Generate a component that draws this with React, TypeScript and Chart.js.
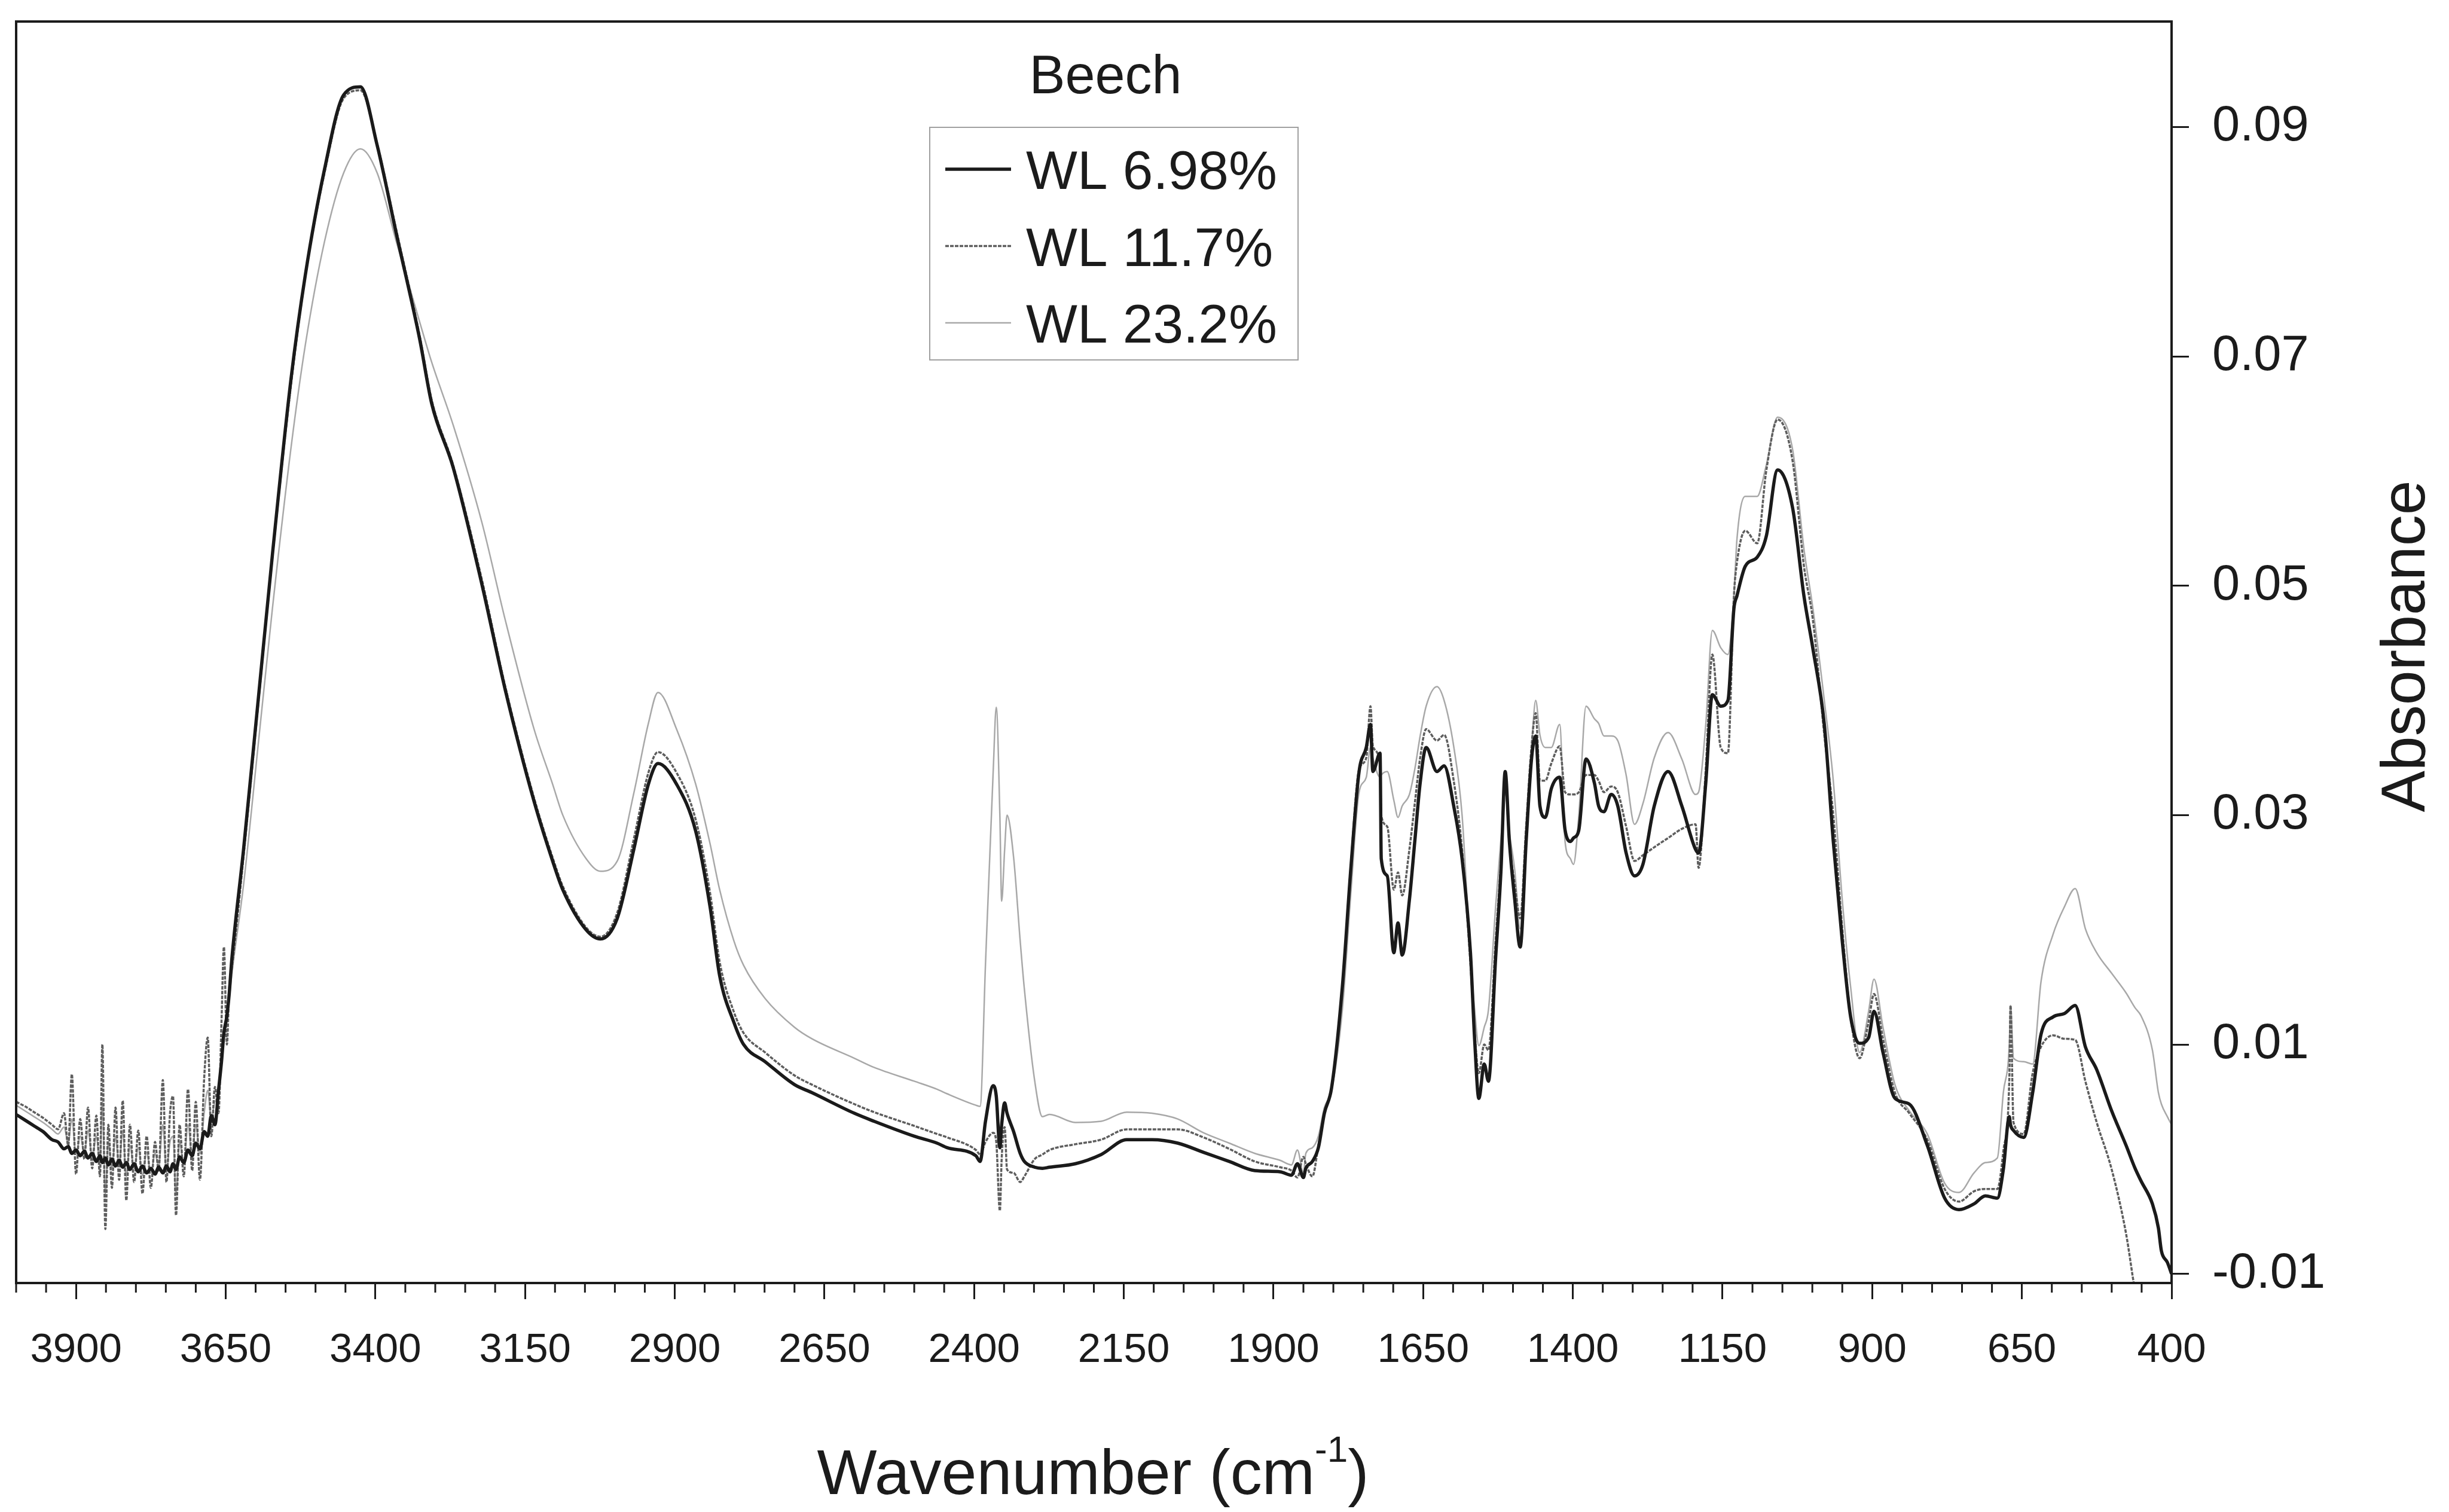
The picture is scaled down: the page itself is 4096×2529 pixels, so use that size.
import React, { useEffect, useRef } from 'react';
import { Chart, registerables } from 'chart.js';

Chart.register(...registerables);

const W = 4096;
const H = 2529;
const FONT = '"Liberation Sans", Arial, Helvetica, sans-serif';
const INK = '#1b1b1b';

// Wavenumber (cm-1), descending
const WAVENUMBERS = [
  4000, 3985, 3970, 3955, 3940, 3930, 3920, 3913, 3907, 3900,
  3893, 3886, 3880, 3873, 3866, 3860, 3856, 3851, 3846, 3840,
  3834, 3828, 3822, 3816, 3810, 3803, 3796, 3789, 3782, 3775,
  3768, 3762, 3755, 3749, 3743, 3738, 3733, 3727, 3720, 3713,
  3706, 3700, 3693, 3686, 3680, 3674, 3668, 3662, 3657, 3653,
  3648, 3644, 3640, 3620, 3596, 3572, 3541,
  3517, 3485, 3453, 3425, 3397, 3365, 3326, 3306, 3270, 3222,
  3183, 3135, 3104, 3087, 3048, 3024, 2996, 2968, 2944, 2928,
  2897, 2865, 2841, 2825, 2801, 2785, 2749, 2700, 2671, 2600,
  2567, 2500, 2462, 2445, 2397, 2390, 2381, 2368, 2363, 2357,
  2354, 2349, 2345, 2334, 2323, 2316, 2299, 2286, 2274, 2231,
  2188, 2145, 2103, 2060, 2017, 1974, 1931, 1889, 1870, 1860,
  1850, 1846, 1835, 1825, 1815, 1803, 1785, 1771, 1757, 1745,
  1738, 1734, 1722, 1720, 1710, 1699, 1692, 1685, 1673, 1664,
  1655, 1645, 1627, 1615, 1599, 1585, 1571, 1564, 1557, 1548,
  1541, 1529, 1520, 1513, 1506, 1497, 1488, 1478, 1469, 1462,
  1455, 1446, 1436, 1422, 1413, 1404, 1399, 1390, 1378, 1364,
  1357, 1348, 1336, 1325, 1311, 1297, 1283, 1264, 1241, 1218,
  1195, 1190, 1178, 1167, 1153, 1141, 1131, 1126, 1112, 1092,
  1077, 1058, 1033, 1014, 999, 980, 965, 950, 936, 921,
  906, 897, 882, 862, 838, 808, 779, 755, 730, 711,
  691, 681, 671, 669, 664, 647, 632, 618, 598, 579,
  561, 544, 525, 500, 476, 461, 451, 432, 422, 417,
  407, 400,
];

// Absorbance, WL 6.98%
const WL_698 = [
  0.0039, 0.0034, 0.0029, 0.0024, 0.0017, 0.0015, 0.0009, 0.0011, 0.0005, 0.0008,
  0.0003, 0.0007, 0.0001, 0.0005, -0.0002, 0.0003, -0.0003, 0.0001, -0.0005, 0.0000,
  -0.0006, -0.0001, -0.0007, -0.0003, -0.0009, -0.0004, -0.0011, -0.0006, -0.0012, -0.0008,
  -0.0013, -0.0007, -0.0012, -0.0006, -0.0011, -0.0004, -0.0009, 0.0002, -0.0003, 0.0008,
  0.0003, 0.0014, 0.0009, 0.0024, 0.0020, 0.0038, 0.0030, 0.0060, 0.0085, 0.0110,
  0.0125, 0.0145, 0.0173, 0.0271, 0.0399, 0.0527, 0.0680,
  0.0771, 0.0863, 0.0928, 0.0935, 0.0884, 0.0807, 0.0715, 0.0659, 0.0603, 0.0501,
  0.0409, 0.0312, 0.0260, 0.0235, 0.0200, 0.0192, 0.0210, 0.0271, 0.0327, 0.0345,
  0.0327, 0.0286, 0.0220, 0.0160, 0.0119, 0.0100, 0.0085, 0.0065, 0.0058, 0.0040,
  0.0033, 0.0020, 0.0014, 0.0010, 0.0003, -0.0002, 0.0033, 0.0064, 0.0055, 0.0010,
  0.0030, 0.0049, 0.0040, 0.0024, 0.0005, -0.0002, -0.0007, -0.0008, -0.0007, -0.0004,
  0.0004, 0.0017, 0.0017, 0.0014, 0.0006, -0.0002, -0.0010, -0.0011, -0.0014, -0.0004,
  -0.0016, -0.0008, -0.0002, 0.0010, 0.0040, 0.0062, 0.0150, 0.0252, 0.0338, 0.0359,
  0.0379, 0.0338, 0.0354, 0.0262, 0.0247, 0.0180, 0.0206, 0.0178, 0.0226, 0.0277,
  0.0328, 0.0359, 0.0338, 0.0343, 0.0308, 0.0262, 0.0180, 0.0104, 0.0053, 0.0083,
  0.0068, 0.0175, 0.0252, 0.0338, 0.0277, 0.0226, 0.0185, 0.0277, 0.0349, 0.0369,
  0.0308, 0.0298, 0.0323, 0.0333, 0.0287, 0.0277, 0.0280, 0.0287, 0.0349, 0.0328,
  0.0308, 0.0303, 0.0318, 0.0308, 0.0267, 0.0247, 0.0257, 0.0308, 0.0338, 0.0308,
  0.0270, 0.0267, 0.0328, 0.0405, 0.0395, 0.0400, 0.0480, 0.0491, 0.0517, 0.0525,
  0.0543, 0.0601, 0.0568, 0.0491, 0.0445, 0.0379, 0.0277, 0.0190, 0.0124, 0.0101,
  0.0106, 0.0129, 0.0093, 0.0053, 0.0048, 0.0012, -0.0034, -0.0044, -0.0039, -0.0032,
  -0.0034, -0.0009, 0.0037, 0.0030, 0.0025, 0.0019, 0.0058, 0.0109, 0.0124, 0.0127,
  0.0134, 0.0098, 0.0078, 0.0042, 0.0012, -0.0008, -0.0019, -0.0039, -0.0060, -0.0080,
  -0.0090, -0.0100,
];

// Absorbance, WL 11.7%
const WL_117 = [
  0.0050, 0.0046, 0.0041, 0.0036, 0.0030, 0.0026, 0.0040, 0.0012, 0.0074, -0.0013,
  0.0035, 0.0000, 0.0045, -0.0008, 0.0038, -0.0015, 0.0100, -0.0061, 0.0030, -0.0025,
  0.0045, -0.0018, 0.0051, -0.0036, 0.0030, -0.0020, 0.0025, -0.0030, 0.0020, -0.0025,
  0.0015, -0.0010, 0.0069, -0.0020, 0.0040, 0.0055, -0.0049, 0.0030, -0.0015, 0.0061,
  -0.0010, 0.0050, -0.0018, 0.0070, 0.0106, 0.0020, 0.0063, 0.0040, 0.0120, 0.0185,
  0.0100, 0.0150, 0.0165, 0.0265, 0.0395, 0.0525, 0.0675,
  0.0770, 0.0860, 0.0925, 0.0932, 0.0885, 0.0810, 0.0718, 0.0662, 0.0605, 0.0505,
  0.0412, 0.0315, 0.0263, 0.0238, 0.0202, 0.0194, 0.0215, 0.0280, 0.0337, 0.0355,
  0.0337, 0.0296, 0.0232, 0.0172, 0.0128, 0.0110, 0.0093, 0.0073, 0.0065, 0.0048,
  0.0041, 0.0029, 0.0022, 0.0019, 0.0008, 0.0004, 0.0015, 0.0023, 0.0015, -0.0045,
  0.0000, 0.0028, -0.0009, -0.0012, -0.0020, -0.0015, 0.0000, 0.0004, 0.0008, 0.0013,
  0.0017, 0.0026, 0.0026, 0.0026, 0.0019, 0.0009, -0.0002, -0.0007, -0.0010, -0.0016,
  0.0002, -0.0004, -0.0015, 0.0012, 0.0040, 0.0062, 0.0150, 0.0255, 0.0340, 0.0350,
  0.0395, 0.0360, 0.0345, 0.0300, 0.0290, 0.0235, 0.0250, 0.0230, 0.0270, 0.0310,
  0.0350, 0.0375, 0.0365, 0.0370, 0.0330, 0.0270, 0.0170, 0.0110, 0.0075, 0.0100,
  0.0095, 0.0190, 0.0260, 0.0330, 0.0275, 0.0240, 0.0210, 0.0290, 0.0360, 0.0389,
  0.0330, 0.0330, 0.0345, 0.0360, 0.0320, 0.0318, 0.0318, 0.0320, 0.0335, 0.0335,
  0.0330, 0.0320, 0.0325, 0.0320, 0.0290, 0.0260, 0.0265, 0.0272, 0.0280, 0.0288,
  0.0292, 0.0254, 0.0340, 0.0440, 0.0359, 0.0354, 0.0491, 0.0520, 0.0548, 0.0537,
  0.0600, 0.0645, 0.0609, 0.0517, 0.0470, 0.0370, 0.0300, 0.0201, 0.0124, 0.0088,
  0.0120, 0.0144, 0.0105, 0.0058, 0.0040, 0.0017, -0.0026, -0.0037, -0.0028, -0.0026,
  -0.0026, 0.0007, 0.0070, 0.0134, 0.0032, 0.0022, 0.0075, 0.0098, 0.0108, 0.0105,
  0.0104, 0.0068, 0.0032, -0.0009, -0.0065, -0.0115, -0.0140, null, null, null,
  null, null,
];

// Absorbance, WL 23.2%
const WL_232 = [
  0.0047, 0.0042, 0.0037, 0.0032, 0.0026, 0.0022, 0.0028, 0.0014, 0.0035, 0.0004,
  0.0020, 0.0006, 0.0025, 0.0002, 0.0020, -0.0004, 0.0050, -0.0030, 0.0015, -0.0008,
  0.0020, -0.0006, 0.0025, -0.0015, 0.0012, -0.0008, 0.0010, -0.0014, 0.0006, -0.0012,
  0.0005, -0.0006, 0.0030, -0.0010, 0.0015, 0.0020, -0.0030, 0.0015, -0.0005, 0.0030,
  0.0002, 0.0030, 0.0005, 0.0040, 0.0060, 0.0035, 0.0050, 0.0055, 0.0090, 0.0110,
  0.0120, 0.0140, 0.0160, 0.0240, 0.0360, 0.0480, 0.0620,
  0.0710, 0.0800, 0.0860, 0.0881, 0.0860, 0.0800, 0.0730, 0.0695, 0.0640, 0.0555,
  0.0470, 0.0375, 0.0327, 0.0300, 0.0262, 0.0251, 0.0260, 0.0320, 0.0380, 0.0407,
  0.0375, 0.0327, 0.0275, 0.0235, 0.0190, 0.0169, 0.0140, 0.0115, 0.0105, 0.0088,
  0.0080, 0.0068, 0.0061, 0.0057, 0.0047, 0.0046, 0.0170, 0.0340, 0.0394, 0.0300,
  0.0225, 0.0270, 0.0300, 0.0263, 0.0190, 0.0148, 0.0069, 0.0037, 0.0039, 0.0032,
  0.0033, 0.0041, 0.0040, 0.0035, 0.0023, 0.0014, 0.0005, -0.0001, -0.0005, 0.0008,
  -0.0012, 0.0005, 0.0010, 0.0020, 0.0045, 0.0060, 0.0130, 0.0230, 0.0320, 0.0333,
  0.0359, 0.0350, 0.0333, 0.0335, 0.0338, 0.0313, 0.0298, 0.0308, 0.0318, 0.0340,
  0.0369, 0.0395, 0.0412, 0.0400, 0.0360, 0.0300, 0.0175, 0.0130, 0.0099, 0.0115,
  0.0130, 0.0220, 0.0280, 0.0318, 0.0285, 0.0252, 0.0201, 0.0290, 0.0359, 0.0400,
  0.0370, 0.0359, 0.0359, 0.0379, 0.0277, 0.0262, 0.0257, 0.0300, 0.0395, 0.0384,
  0.0380, 0.0369, 0.0369, 0.0365, 0.0335, 0.0292, 0.0310, 0.0350, 0.0372, 0.0349,
  0.0318, 0.0320, 0.0379, 0.0461, 0.0446, 0.0440, 0.0491, 0.0540, 0.0578, 0.0578,
  0.0605, 0.0647, 0.0619, 0.0532, 0.0480, 0.0400, 0.0330, 0.0226, 0.0150, 0.0093,
  0.0129, 0.0157, 0.0115, 0.0065, 0.0042, 0.0022, -0.0021, -0.0029, -0.0012, -0.0003,
  0.0001, 0.0058, 0.0100, 0.0134, 0.0088, 0.0085, 0.0083, 0.0155, 0.0196, 0.0220,
  0.0236, 0.0201, 0.0180, 0.0162, 0.0145, 0.0132, 0.0125, 0.0095, 0.0058, 0.0048,
  0.0037, 0.0030,
];

const SERIES_LABELS = ['WL 6.98%', 'WL 11.7%', 'WL 23.2%'];
const LEGEND_TITLE = 'Beech';
const X_TICKS = [3900, 3650, 3400, 3150, 2900, 2650, 2400, 2150, 1900, 1650, 1400, 1150, 900, 650, 400];
const X_MINOR_STEP = 50;
const Y_TICKS = [-0.01, 0.01, 0.03, 0.05, 0.07, 0.09];
const X_TITLE = 'Wavenumber (cm';
const X_TITLE_SUP = '-1';
const X_TITLE_END = ')';
const Y_TITLE = 'Absorbance';

const toPoints = (vals: (number | null)[]) => WAVENUMBERS.map((w, i) => ({ x: w, y: vals[i] }));

export default function App() {
  const ref = useRef<HTMLCanvasElement>(null);

  useEffect(() => {
    const canvas = ref.current;
    if (!canvas) return;

    const decor = {
      id: 'decor',
      afterDraw(chart: any) {
        const { ctx, chartArea: ca } = chart;
        const xs = chart.scales.x;
        ctx.save();
        // frame
        ctx.strokeStyle = INK;
        ctx.lineWidth = 4;
        ctx.strokeRect(ca.left, ca.top, ca.right - ca.left, ca.bottom - ca.top);
        // minor x ticks
        ctx.lineWidth = 3;
        for (let w = xs.max; w >= xs.min; w -= X_MINOR_STEP) {
          if (X_TICKS.includes(w)) continue;
          const px = xs.getPixelForValue(w);
          ctx.beginPath();
          ctx.moveTo(px, ca.bottom);
          ctx.lineTo(px, ca.bottom + 16);
          ctx.stroke();
        }
        // legend
        ctx.fillStyle = INK;
        ctx.font = `90px ${FONT}`;
        ctx.textAlign = 'center';
        ctx.textBaseline = 'alphabetic';
        ctx.fillText(LEGEND_TITLE, 1849, 156);
        ctx.strokeStyle = '#a0a0a0';
        ctx.lineWidth = 2;
        ctx.strokeRect(1555, 213, 616, 389);
        chart.data.datasets.forEach((ds: any, i: number) => {
          const cy = 283 + i * 128.5;
          ctx.save();
          ctx.strokeStyle = ds.borderColor;
          ctx.lineWidth = ds.borderWidth;
          ctx.setLineDash(ds.borderDash || []);
          ctx.beginPath();
          ctx.moveTo(1581, cy);
          ctx.lineTo(1691, cy);
          ctx.stroke();
          ctx.restore();
          ctx.fillStyle = INK;
          ctx.textAlign = 'left';
          ctx.font = `91px ${FONT}`;
          ctx.fillText(ds.label, 1716, cy + 33);
        });
        // x title with superscript
        const mainFont = `106px ${FONT}`;
        const supFont = `62px ${FONT}`;
        ctx.font = mainFont;
        const wMain = ctx.measureText(X_TITLE).width;
        const wEnd = ctx.measureText(X_TITLE_END).width;
        ctx.font = supFont;
        const wSup = ctx.measureText(X_TITLE_SUP).width;
        const total = wMain + wSup + wEnd;
        const x0 = 1828 - total / 2;
        ctx.textAlign = 'left';
        ctx.font = mainFont;
        ctx.fillText(X_TITLE, x0, 2499);
        ctx.font = supFont;
        ctx.fillText(X_TITLE_SUP, x0 + wMain, 2445);
        ctx.font = mainFont;
        ctx.fillText(X_TITLE_END, x0 + wMain + wSup, 2499);
        // y title
        ctx.save();
        ctx.translate(4055, 1081);
        ctx.rotate(-Math.PI / 2);
        ctx.textAlign = 'center';
        ctx.font = `104px ${FONT}`;
        ctx.fillText(Y_TITLE, 0, 0);
        ctx.restore();
        ctx.restore();
      },
    };

    const chart = new Chart(canvas, {
      type: 'line',
      data: {
        datasets: [
          {
            label: SERIES_LABELS[0],
            data: toPoints(WL_698),
            borderColor: '#1a1a1a',
            borderWidth: 5.5,
            pointRadius: 0,
            cubicInterpolationMode: 'monotone',
            spanGaps: false,
          },
          {
            label: SERIES_LABELS[1],
            data: toPoints(WL_117),
            borderColor: '#5e5e5e',
            borderWidth: 3.5,
            borderDash: [6, 2],
            pointRadius: 0,
            cubicInterpolationMode: 'monotone',
            spanGaps: false,
          },
          {
            label: SERIES_LABELS[2],
            data: toPoints(WL_232),
            borderColor: '#a8a8a8',
            borderWidth: 2.5,
            pointRadius: 0,
            cubicInterpolationMode: 'monotone',
            spanGaps: false,
          },
        ],
      },
      options: {
        animation: false,
        responsive: false,
        devicePixelRatio: 1,
        layout: { padding: { left: 27, top: 36, right: 0, bottom: 0 } },
        plugins: { legend: { display: false }, tooltip: { enabled: false } },
        scales: {
          x: {
            type: 'linear',
            position: 'bottom',
            reverse: true,
            min: 400,
            max: 4000,
            afterBuildTicks: (s: any) => {
              s.ticks = X_TICKS.map((v) => ({ value: v }));
            },
            afterFit: (s: any) => {
              s.height = H - 2146;
              s.paddingLeft = 0;
              s.paddingRight = 0;
            },
            ticks: {
              autoSkip: false,
              maxRotation: 0,
              minRotation: 0,
              padding: 45,
              color: INK,
              font: { family: FONT, size: 69 },
              callback: (v: any) => String(v),
            },
            grid: {
              display: true,
              drawOnChartArea: false,
              drawTicks: true,
              tickLength: 27,
              tickWidth: 3,
              tickColor: INK,
            },
            border: { display: false },
          },
          y: {
            type: 'linear',
            position: 'right',
            min: -0.0108,
            max: 0.0992,
            afterBuildTicks: (s: any) => {
              s.ticks = Y_TICKS.map((v) => ({ value: v }));
            },
            afterFit: (s: any) => {
              s.width = W - 3632;
              s.paddingTop = 0;
              s.paddingBottom = 0;
            },
            ticks: {
              padding: 39,
              color: INK,
              font: { family: FONT, size: 83 },
              callback: (v: any) => Number(v).toFixed(2),
            },
            grid: {
              display: true,
              drawOnChartArea: false,
              drawTicks: true,
              tickLength: 29,
              tickWidth: 3,
              tickColor: INK,
            },
            border: { display: false },
          },
        },
      },
      plugins: [decor],
    } as any);

    return () => chart.destroy();
  }, []);

  return (
    <div style={{ position: 'absolute', left: 0, top: 0, width: W, height: H, background: '#fff' }}>
      <canvas ref={ref} width={W} height={H} style={{ width: W, height: H, display: 'block' }} />
    </div>
  );
}
